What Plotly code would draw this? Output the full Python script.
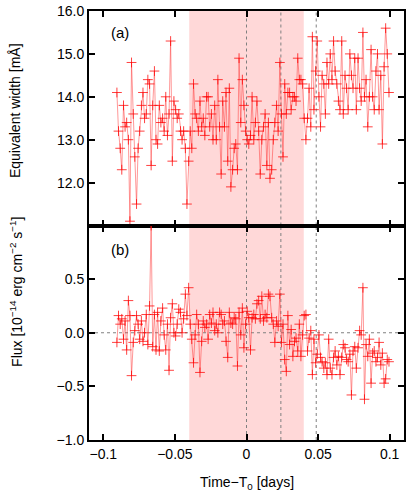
import plotly.graph_objects as go
from plotly.subplots import make_subplots

# Time relative to mid-transit [days]
time = [
    -0.0905, -0.0894, -0.0882, -0.0871, -0.0859, -0.0848, -0.0837, -0.0825, -0.0814, -0.0803,
    -0.0791, -0.0780, -0.0768, -0.0757, -0.0746, -0.0734, -0.0723, -0.0712, -0.0700, -0.0689,
    -0.0677, -0.0666, -0.0655, -0.0643, -0.0632, -0.0621, -0.0609, -0.0598, -0.0586, -0.0575,
    -0.0564, -0.0552, -0.0541, -0.0530, -0.0518, -0.0507, -0.0495, -0.0484, -0.0473, -0.0461,
    -0.0450, -0.0439, -0.0427, -0.0416, -0.0404, -0.0393, -0.0382, -0.0370, -0.0359, -0.0348,
    -0.0336, -0.0325, -0.0313, -0.0302, -0.0291, -0.0279, -0.0268, -0.0257, -0.0245, -0.0234,
    -0.0222, -0.0211, -0.0200, -0.0188, -0.0177, -0.0166, -0.0154, -0.0143, -0.0131, -0.0120,
    -0.0109, -0.0097, -0.0086, -0.0075, -0.0063, -0.0052, -0.0040, -0.0029, -0.0018, -0.0006,
    0.0005, 0.0016, 0.0028, 0.0039, 0.0051, 0.0062, 0.0073, 0.0085, 0.0096, 0.0107,
    0.0119, 0.0130, 0.0142, 0.0153, 0.0164, 0.0176, 0.0187, 0.0198, 0.0210, 0.0221,
    0.0233, 0.0244, 0.0255, 0.0267, 0.0278, 0.0289, 0.0301, 0.0312, 0.0324, 0.0335,
    0.0346, 0.0358, 0.0369, 0.0380, 0.0392, 0.0403, 0.0415, 0.0426, 0.0437, 0.0449,
    0.0460, 0.0471, 0.0483, 0.0494, 0.0506, 0.0517, 0.0528, 0.0540, 0.0551, 0.0562,
    0.0574, 0.0585, 0.0597, 0.0608, 0.0619, 0.0631, 0.0642, 0.0653, 0.0665, 0.0676,
    0.0688, 0.0699, 0.0710, 0.0722, 0.0733, 0.0744, 0.0756, 0.0767, 0.0779, 0.0790,
    0.0801, 0.0813, 0.0824, 0.0835, 0.0847, 0.0858, 0.0870, 0.0881, 0.0892, 0.0904,
    0.0915, 0.0926, 0.0938, 0.0949, 0.0961, 0.0972, 0.0983, 0.0995,
]

# (a) equivalent width [mA]
eq_width = [
    14.1, 13.2, 12.8, 12.3, 13.8, 13.3, 13.4, 13.0, 11.1, 14.8,
    13.6, 12.6, 11.5, 12.8, 13.2, 13.8, 14.1, 13.5, 13.6, 14.4,
    14.3, 12.4, 13.8, 14.6, 13.0, 12.9, 13.8, 13.4, 13.5, 13.2,
    14.0, 13.1, 13.6, 15.3, 12.5, 13.9, 13.7, 13.5, 13.6, 13.2,
    13.0, 13.2, 12.8, 11.5, 12.5, 13.2, 12.8, 14.3, 13.6, 13.5,
    13.2, 13.9, 13.3, 13.5, 13.1, 14.0, 14.0, 13.3, 13.6, 13.0,
    13.8, 13.0, 14.4, 13.3, 12.2, 13.9, 13.3, 14.1, 12.5, 14.2,
    11.9, 12.3, 12.8, 12.9, 12.3, 14.9, 13.4, 14.4, 13.8, 13.2,
    13.0, 12.9, 13.1, 14.0, 13.0, 13.4, 13.9, 13.2, 12.2, 13.0,
    13.3, 13.6, 12.4, 13.4, 12.1, 12.3, 13.0, 13.4, 13.8, 13.2,
    14.8, 13.6, 12.6, 14.3, 13.6, 14.1, 14.1, 13.7, 14.0, 14.0,
    13.9, 14.9, 14.4, 14.4, 14.3, 13.5, 13.0, 13.5, 14.2, 13.3,
    15.4, 13.7, 14.6, 15.3, 14.0, 13.3, 14.5, 14.3, 13.6, 14.8,
    14.3, 15.0, 14.4, 15.3, 14.6, 14.3, 13.9, 13.7, 15.3, 13.6,
    14.5, 14.2, 13.7, 15.0, 14.5, 14.2, 14.9, 13.7, 14.9, 14.2,
    13.9, 15.5, 14.0, 14.4, 13.3, 14.0, 15.1, 14.0, 13.7, 14.6,
    15.0, 13.7, 14.5, 12.9, 14.7, 15.6, 15.0, 14.1,
]

# (b) flux [1e-14 erg cm-2 s-1]
flux = [
    -0.09, 0.16, 0.08, 0.13, -0.06, 0.11, -0.16, 0.30, 0.16, -0.40,
    -0.09, 0.02, 0.16, 0.08, -0.06, 0.11, -0.08, 0.00, 0.17, -0.11,
    0.25, 1.00, -0.13, 0.17, -0.16, 0.19, -0.17, 0.11, 0.23, -0.02,
    -0.16, 0.08, -0.35, 0.14, 0.27, 0.00, -0.03, 0.08, 0.22, 0.19,
    0.00, 0.13, 0.36, 0.16, 0.42, 0.08, -0.06, -0.28, -0.02, 0.17,
    0.08, -0.37, -0.08, 0.11, 0.05, 0.08, -0.06, 0.17, 0.09, 0.19,
    0.02, 0.08, 0.00, 0.19, 0.17, 0.08, 0.11, -0.08, -0.23, 0.19,
    0.09, 0.08, 0.14, 0.13, -0.31, 0.19, -0.02, 0.23, -0.14, 0.08,
    0.20, 0.14, -0.16, 0.14, 0.17, 0.13, 0.27, 0.30, 0.13, 0.34,
    0.11, 0.17, 0.14, 0.36, 0.34, 0.14, 0.08, -0.09, 0.11, 0.06,
    0.36, -0.09, 0.08, -0.25, -0.36, 0.16, -0.11, 0.03, -0.22, -0.08,
    -0.05, -0.17, 0.08, -0.22, -0.02, 0.16, 0.17, -0.17, -0.05, 0.02,
    -0.39, -0.06, -0.28, -0.20, -0.02, -0.23, -0.27, -0.33, -0.28, -0.39,
    -0.06, -0.33, -0.39, -0.23, -0.17, -0.30, -0.22, -0.39, -0.23, -0.11,
    -0.14, -0.25, -0.27, -0.20, -0.58, -0.17, -0.13, -0.33, -0.14, 0.02,
    -0.02, 0.42, -0.62, -0.11, -0.22, -0.06, -0.47, -0.19, -0.17, -0.27,
    -0.23, -0.09, -0.30, -0.19, -0.47, -0.43, -0.25, -0.27,
]

transit_window = [-0.04, 0.04]
contact_lines = [0.0, 0.024, 0.0487]

font_family = 'Liberation Sans, Arial, Helvetica, sans-serif'

fig = make_subplots(rows=2, cols=1, shared_xaxes=True, vertical_spacing=0)

for row, yvals in [(1, eq_width), (2, flux)]:
    fig.add_trace(
        go.Scatter(
            x=time,
            y=yvals,
            mode='lines+markers',
            line={'color': 'rgba(255,50,50,0.5)', 'width': 1},
            marker={'symbol': 'cross-thin', 'size': 7,
                    'line': {'color': 'rgba(255,0,0,0.75)', 'width': 1}},
            showlegend=False,
        ),
        row=row, col=1,
    )

# shaded transit window + contact markers, on both panels
for row in [1, 2]:
    fig.add_vrect(x0=transit_window[0], x1=transit_window[1],
                  fillcolor='rgb(255,216,216)', opacity=1, line_width=0,
                  layer='below', row=row, col=1)
    for xc in contact_lines:
        fig.add_vline(x=xc, line={'color': 'grey', 'width': 1, 'dash': 'dot'},
                      layer='below', row=row, col=1)

fig.add_hline(y=0, line={'color': 'grey', 'width': 1, 'dash': 'dot'},
              layer='below', row=2, col=1)

axis_style = dict(
    showline=True, linecolor='black', linewidth=2, mirror='allticks',
    ticks='inside', ticklen=6, tickwidth=2, tickcolor='black',
    showgrid=False, zeroline=False, automargin=False,
    tickfont={'size': 14, 'color': 'black'},
)

fig.update_xaxes(range=[-0.11, 0.11], tickvals=[-0.1, -0.05, 0, 0.05, 0.1], **axis_style)
fig.update_yaxes(range=[11, 16], tickvals=[12, 13, 14, 15, 16], tickformat='.1f',
                 row=1, col=1, **axis_style)
fig.update_yaxes(range=[-1, 1], tickvals=[-1, -0.5, 0, 0.5], tickformat='.1f',
                 row=2, col=1, **axis_style)

# axis titles and panel labels
title_font = {'size': 14, 'color': 'black'}
fig.add_annotation(text='Equivalent width [m\u00c5]', textangle=-90,
                   x=-0.235, y=0.769, xref='paper', yref='paper',
                   xanchor='center', yanchor='middle',
                   showarrow=False, font=title_font)
fig.add_annotation(text='Flux [10<sup>\u221214</sup> erg cm<sup>\u22122</sup> s<sup>\u22121</sup>]',
                   textangle=-90, x=-0.232, y=0.345, xref='paper', yref='paper',
                   xanchor='center', yanchor='middle',
                   showarrow=False, font=title_font)
fig.add_annotation(text='Time\u2212T<sub>0</sub> [days]', x=0, y=-0.1,
                   xref='x2', yref='paper', xanchor='center', yanchor='middle',
                   showarrow=False, font=title_font)

fig.add_annotation(text='(a)', x=0.098, y=0.949, xref='paper', yref='paper',
                   xanchor='center', yanchor='middle',
                   showarrow=False, font={'size': 15, 'color': 'black'})
fig.add_annotation(text='(b)', x=0.098, y=0.445, xref='paper', yref='paper',
                   xanchor='center', yanchor='middle',
                   showarrow=False, font={'size': 15, 'color': 'black'})

fig.update_layout(
    width=415, height=502,
    paper_bgcolor='white', plot_bgcolor='white',
    margin=dict(l=89, r=11, t=11, b=62),
    font={'family': font_family, 'color': 'black'},
)

# drop the default page margin so the figure sits at the window's corner
fig.write_html('out.html', config={'displayModeBar': False},
               post_script="document.body.style.margin='0';")
